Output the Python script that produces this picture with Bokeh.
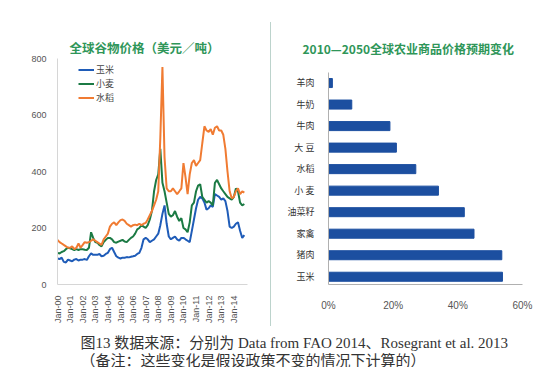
import math
import pandas as pd
from bokeh.plotting import figure
from bokeh.layouts import column, row
from bokeh.models import (Range1d, FixedTicker, DatetimeTickFormatter,
                          PrintfTickFormatter, Legend, LegendItem, Div, Title)
from bokeh.core.properties import value
from bokeh.embed import file_html
from bokeh.resources import INLINE

# ---------------- data ----------------
# bimonthly samples Jan 2000 .. Nov 2014 (US$/t)
corn = [92, 90, 95, 80, 78, 88,
        85, 82, 88, 90, 85, 88,
        88, 90, 87, 100, 110, 105,
        105, 105, 108, 100, 102, 108,
        112, 125, 130, 115, 100, 95,
        92, 95, 95, 97, 96, 98,
        100, 102, 108, 112, 130, 160,
        165, 160, 150, 155, 160, 170,
        180, 210, 250, 280, 215, 170,
        160, 165, 170, 160, 155, 165,
        165, 160, 155, 150, 190, 230,
        270, 300, 310, 305, 290, 265,
        270, 280, 275, 320, 315, 310,
        300, 305, 295, 260, 205, 200,
        205, 215, 220, 190, 165, 175]
wheat = [112, 110, 115, 118, 125, 130,
         128, 125, 122, 125, 122, 125,
         125, 123, 122, 130, 185, 165,
         150, 148, 140, 135, 150, 158,
         165, 165, 160, 150, 148, 152,
         155, 158, 152, 150, 158, 165,
         170, 180, 195, 200, 210, 205,
         200, 210, 230, 260, 330, 370,
         390, 480, 360, 330, 290, 250,
         240, 245, 260, 240, 225, 235,
         200, 195, 185, 220, 280, 290,
         330, 350, 355, 310, 300, 290,
         295, 290, 280, 360, 370, 355,
         340, 330, 320, 310, 305, 300,
         310, 340, 330, 290, 280, 285]
rice = [158, 150, 145, 140, 135, 130,
        130, 135, 125, 130, 145, 130,
        140, 150, 148, 150, 155, 160,
        155, 150, 145, 140, 160, 170,
        180, 205, 215, 220, 210, 220,
        228, 230, 225, 215, 210, 205,
        210, 212, 210, 215, 210, 215,
        218, 230, 245, 260, 280, 300,
        330, 520, 770, 450, 340, 330,
        330, 340, 330, 320, 330, 340,
        430, 380, 320, 390, 430, 440,
        420, 430, 440, 500, 560, 545,
        540, 550, 530, 555, 560, 545,
        545, 530, 480, 400, 330, 305,
        310, 330, 340, 320, 330, 325]
dates = pd.date_range("2000-01-01", periods=len(corn), freq="2MS")
series_names = ["玉米", "小麦", "水稻"]
series_colors = ["#1f5cb8", "#1b7a44", "#f07b32"]
year_ticks = list(range(2000, 2015))
y_ticks = [0, 200, 400, 600, 800]

commodities = ["羊肉", "牛奶", "牛肉", "大 豆", "水稻", "小 麦", "油菜籽", "家禽", "猪肉", "玉米"]
changes = [1.2, 7.2, 19, 21, 27, 34, 42, 45, 53.6, 53.8]
pct_ticks = [0, 20, 40, 60]

caption1 = "图13  数据来源：分别为 Data from FAO 2014、Rosegrant et al. 2013"
caption2 = "（备注：这些变化是假设政策不变的情况下计算的）"

SANS = "Liberation Sans"
CJK = "Noto Sans CJK SC"
SERIF = "Liberation Serif, Noto Sans CJK SC"
TITLE_GREEN = "#2f9659"

TOP, BOTTOM = 50, 39   # shared frame borders: both frames span page y 58..287

# ---------------- left chart ----------------
left = figure(width=262, height=318, x_axis_type="datetime",
              x_range=Range1d(pd.Timestamp("2000-01-01"), pd.Timestamp("2015-02-01")),
              y_range=Range1d(0, 800), output_backend="svg", toolbar_location=None,
              min_border_left=49, min_border_right=23, min_border_top=TOP, min_border_bottom=BOTTOM)
left.title = Title(text="全球谷物价格（美元／吨）", text_font=CJK, text_font_size="12.5px",
                   text_color=TITLE_GREEN, text_font_style="bold", align="left", offset=12, standoff=4)
renderers = []
for vals, col in zip([corn, wheat, rice], series_colors):
    r = left.line(dates, vals, line_color=col, line_width=2)
    renderers.append(r)
left.xgrid.visible = False
left.ygrid.visible = False
left.outline_line_color = None
left.xaxis.ticker = FixedTicker(ticks=[pd.Timestamp(f"{y}-01-01").value / 1e6 for y in year_ticks])
left.xaxis.formatter = DatetimeTickFormatter(years="%b-%y", months="%b-%y", days="%b-%y")
left.xaxis.major_label_orientation = math.pi / 2
left.yaxis.ticker = FixedTicker(ticks=y_ticks)
for ax in (left.xaxis[0], left.yaxis[0]):
    ax.axis_line_color = "#d6d6d6"
    ax.major_tick_line_color = None
    ax.minor_tick_line_color = None
    ax.major_label_text_color = "#555555"
    ax.major_label_text_font = SANS
    ax.major_label_text_font_size = "9px"
    ax.major_label_standoff = 5
legend = Legend(items=[LegendItem(label=n, renderers=[r]) for n, r in zip(series_names, renderers)],
                location=(21, 180), label_text_font=SERIF, label_text_font_size="9px",
                label_text_color="#444444", glyph_width=16, glyph_height=13, label_height=13,
                label_standoff=2, spacing=1, padding=2, border_line_color=None,
                background_fill_alpha=0)
left.add_layout(legend)

# ---------------- separator ----------------
sep = Div(width=1, height=304, margin=(14, 0, 0, 0),
          styles={"background-color": "#bcd3cc"})

# ---------------- right chart ----------------
n = len(commodities)
ypos = [n - 1 - i for i in range(n)]
right = figure(width=271, height=318, y_range=Range1d(-0.36, 10.14),
               x_range=Range1d(0, 60), output_backend="svg", toolbar_location=None,
               min_border_left=57, min_border_right=20, min_border_top=TOP, min_border_bottom=BOTTOM)
right.title = Title(text="2010—2050全球农业商品价格预期变化", text_font=CJK, text_font_size="12px",
                    text_color=TITLE_GREEN, text_font_style="bold", align="left", offset=-26,
                    standoff=4)
right.hbar(y=ypos, right=changes, height=0.42, color="#1c4fa0")
right.xgrid.visible = False
right.ygrid.visible = False
right.outline_line_color = None
right.xaxis.ticker = FixedTicker(ticks=pct_ticks)
right.xaxis.formatter = PrintfTickFormatter(format="%d%%")
right.yaxis.ticker = FixedTicker(ticks=ypos)
right.yaxis.major_label_overrides = {p: c for p, c in zip(ypos, commodities)}
right.yaxis.bounds = (-0.36, n - 0.5)
for ax in (right.xaxis[0], right.yaxis[0]):
    ax.axis_line_color = "#b0b0b0"
    ax.major_tick_line_color = None
    ax.minor_tick_line_color = None
right.xaxis.major_label_text_font = SANS
right.xaxis.major_label_text_font_size = "10px"
right.xaxis.major_label_text_color = "#555555"
right.xaxis.major_label_standoff = 9
right.yaxis.major_label_text_font = SERIF
right.yaxis.major_label_text_font_size = "9px"
right.yaxis.major_label_text_color = "#333333"
right.yaxis.major_label_standoff = 8

# ---------------- caption ----------------
cap = figure(width=534, height=41, x_range=Range1d(0, 534), y_range=Range1d(41, 0),
             output_backend="svg", toolbar_location=None, min_border=0)
cap.axis.visible = False
cap.grid.visible = False
cap.outline_line_color = None
cap.text(x=[72, 72], y=[16, 34], text=[caption1, caption2], text_font=value(SERIF),
         text_font_size="15px", text_color="#333333", text_baseline="middle", text_align="left")

layout = column(row(left, sep, right, spacing=0), cap, spacing=0, margin=(8, 0, 0, 8))

with open("out.html", "w") as f:
    f.write(file_html(layout, INLINE))
